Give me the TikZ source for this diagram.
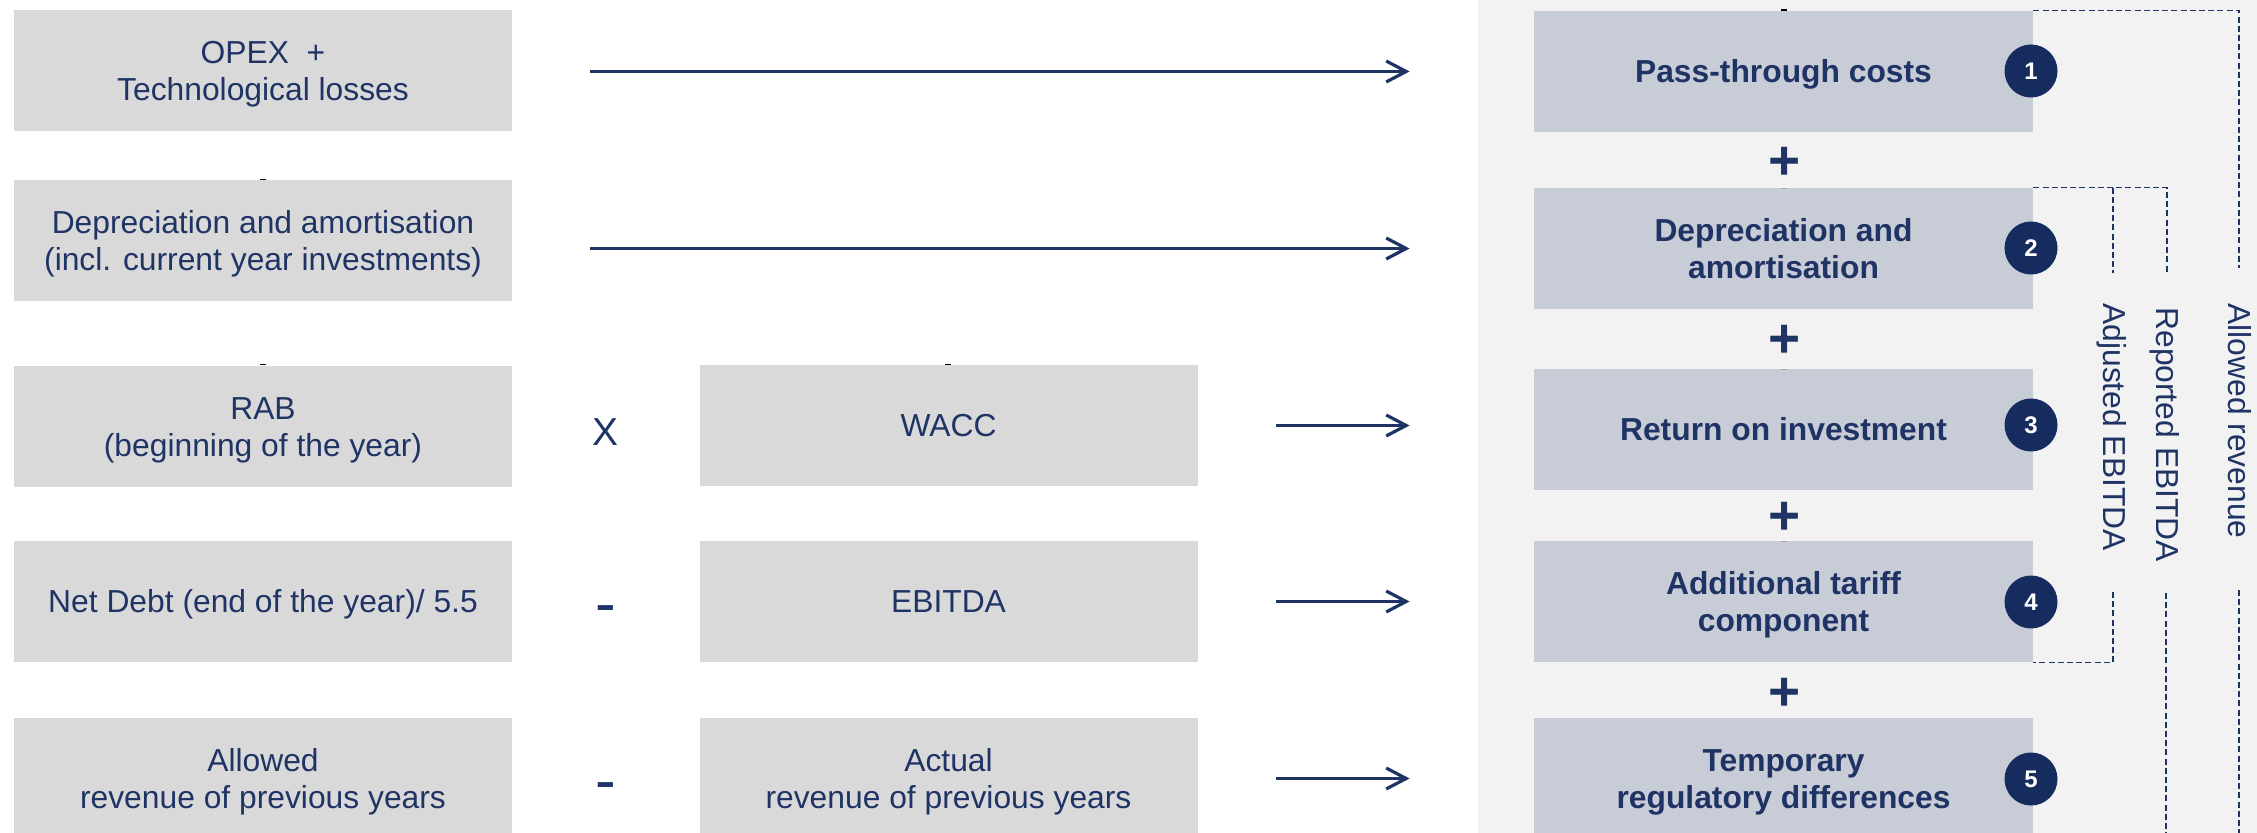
\documentclass[tikz,border=0pt]{standalone}
\usepackage{fontspec}
\setmainfont{Liberation Sans}
\usetikzlibrary{arrows.meta,calc}

\definecolor{navy}{HTML}{1F3465}
\definecolor{badge}{HTML}{172C5E}
\definecolor{inbox}{HTML}{D9D9D9}
\definecolor{outbox}{HTML}{C8CCD7}
\definecolor{panel}{HTML}{F2F2F2}

% line strut with the font's ascent and descent, so box text is centred on full lines
\newcommand\ls{\rule[-0.212em]{0pt}{1.117em}}

\tikzset{
  inputbox/.style={fill=inbox, minimum width=249pt, minimum height=60.5pt,
    inner sep=0pt, align=center, text=navy,
    font=\fontsize{15.9}{18.5}\selectfont},
  termbox/.style={fill=outbox, minimum width=249.5pt, minimum height=60.5pt,
    inner sep=0pt, align=center, text=navy,
    font=\fontsize{15.9}{18.5}\selectfont\bfseries},
  badgenum/.style={circle, fill=badge, minimum size=26.5pt, inner sep=0pt,
    text=white, font=\fontsize{12}{12}\selectfont\bfseries},
  plussign/.style={anchor=base, inner sep=0pt, text=navy,
    font=\fontsize{27.5}{27.5}\selectfont\bfseries},
  opsign/.style={anchor=base, inner sep=0pt, text=navy},
  flowarrow/.style={draw=navy, line width=1.6pt,
    -{Straight Barb[length=10pt,width=10.5pt]},
    shorten <=39pt, shorten >=62pt},
  bracketline/.style={draw=navy, line width=0.9pt, dash pattern=on 3pt off 1.6pt},
  sidelabel/.style={rotate=-90, anchor=west, inner sep=0pt, text=navy,
    font=\fontsize{15.9}{18.5}\selectfont},
  stub/.style={line width=0.6pt}
}

\begin{document}
\begin{tikzpicture}[x=0.5pt, y=-0.5pt]
  \useasboundingbox (0,0) rectangle (2257,833);
  \clip (0,0) rectangle (2257,833);
  \fill[white] (0,0) rectangle (2257,833);

  % shaded panel behind the revenue components
  \fill[panel] (1478,0) rectangle (2257,833);

  % input boxes, left column
  \node[inputbox] (l1) at (263,70.5)  {\ls OPEX\ \ +\\Technological losses\ls};
  \node[inputbox] (l2) at (263,240.5) {\ls Depreciation and amortisation\\(incl. current year investments)\ls};
  \node[inputbox] (l3) at (263,426.5) {\ls RAB\\(beginning of the year)\ls};
  \node[inputbox] (l4) at (263,601.5) {\ls Net Debt (end of the year)/ 5.5\ls};
  \node[inputbox] (l5) at (263,778.5) {\ls Allowed\\revenue of previous years\ls};

  % input boxes, middle column
  \node[inputbox] (m1) at (948.5,425.5) {\ls WACC\ls};
  \node[inputbox] (m2) at (948.5,601.5) {\ls EBITDA\ls};
  \node[inputbox] (m3) at (948.5,778.5) {\ls Actual\\revenue of previous years\ls};

  % operators between the columns
  \node[opsign, font=\fontsize{19.5}{19.5}\selectfont] (opx) at (605.5,445) {X};
  \node[opsign, font=\fontsize{31}{31}\selectfont] (opm1) at (605.5,624) {-};
  \node[opsign, font=\fontsize{31}{31}\selectfont] (opm2) at (605.5,801) {-};

  % revenue components
  \node[termbox] (r1) at (1783.5,71.5)  {\ls Pass-through costs\ls};
  \node[termbox] (r2) at (1783.5,248.5) {\ls Depreciation and\\amortisation\ls};
  \node[termbox] (r3) at (1783.5,429.5) {\ls Return on investment\ls};
  \node[termbox] (r4) at (1783.5,601.5) {\ls Additional tariff\\component\ls};
  \node[termbox] (r5) at (1783.5,778.5) {\ls Temporary\\regulatory differences\ls};

  % small stubs on the box tops
  \draw[stub, black] (260,179.5) -- (266,179.5);
  \draw[stub, black] (260,364.5) -- (266,364.5);
  \draw[stub, black] (945,364.5) -- (951,364.5);
  \draw[stub, black] (1781,10) -- (1787,10);
  \draw[stub, gray!70] (1781,188.5) -- (1787,188.5);
  \draw[stub, gray!70] (1781,369.5) -- (1787,369.5);
  \draw[stub, gray!70] (1781,541.5) -- (1787,541.5);

  % plus signs between the components
  \node[plussign] (p1) at (1785,179.4) {+};
  \node[plussign] (p2) at (1785,357.4) {+};
  \node[plussign] (p3) at (1785,534.4) {+};
  \node[plussign] (p4) at (1785,710.4) {+};

  % numbered badges
  \node[badgenum] (c1) at (2031,71)  {1};
  \node[badgenum] (c2) at (2031,248) {2};
  \node[badgenum] (c3) at (2031,425) {3};
  \node[badgenum] (c4) at (2031,602) {4};
  \node[badgenum] (c5) at (2031,779) {5};

  % flow arrows
  \draw[flowarrow] (l1.east |- r1.west) -- (r1.west);
  \draw[flowarrow] (l2.east |- r2.west) -- (r2.west);
  \draw[flowarrow] (m1.east) -- (m1.east -| r3.west);
  \draw[flowarrow] (m2.east) -- (r4.west);
  \draw[flowarrow] (m3.east) -- (r5.west);

  % side labels
  \node[sidelabel] (lblallowed)  at (2240,303) {Allowed revenue};
  \node[sidelabel] (lblreported) at (2165,307) {Reported EBITDA};
  \node[sidelabel] (lbladjusted) at (2112,303) {Adjusted EBITDA};

  % bracket ends
  \coordinate (ar1) at (2239,268);
  \coordinate (ar2) at (2239,590);
  \coordinate (ar3) at (2239,845);
  \coordinate (rp1) at (2167,273);
  \coordinate (rp2) at (2166,593);
  \coordinate (rp3) at (2166,845);
  \coordinate (ad1) at (2113,273);
  \coordinate (ad2) at (2113,592);

  % brackets: allowed revenue (1-5)
  \draw[bracketline] (r1.north east) -| (ar1);
  \draw[bracketline] (ar2) -- (ar3);
  % reported EBITDA (2-5)
  \draw[bracketline] (r2.north east) -| (rp1);
  \draw[bracketline] (rp2) -- (rp3);
  % adjusted EBITDA (2-4)
  \draw[bracketline] (r2.north east -| ad1) -- (ad1);
  \draw[bracketline] (ad2) |- (r4.south east);
\end{tikzpicture}
\end{document}
